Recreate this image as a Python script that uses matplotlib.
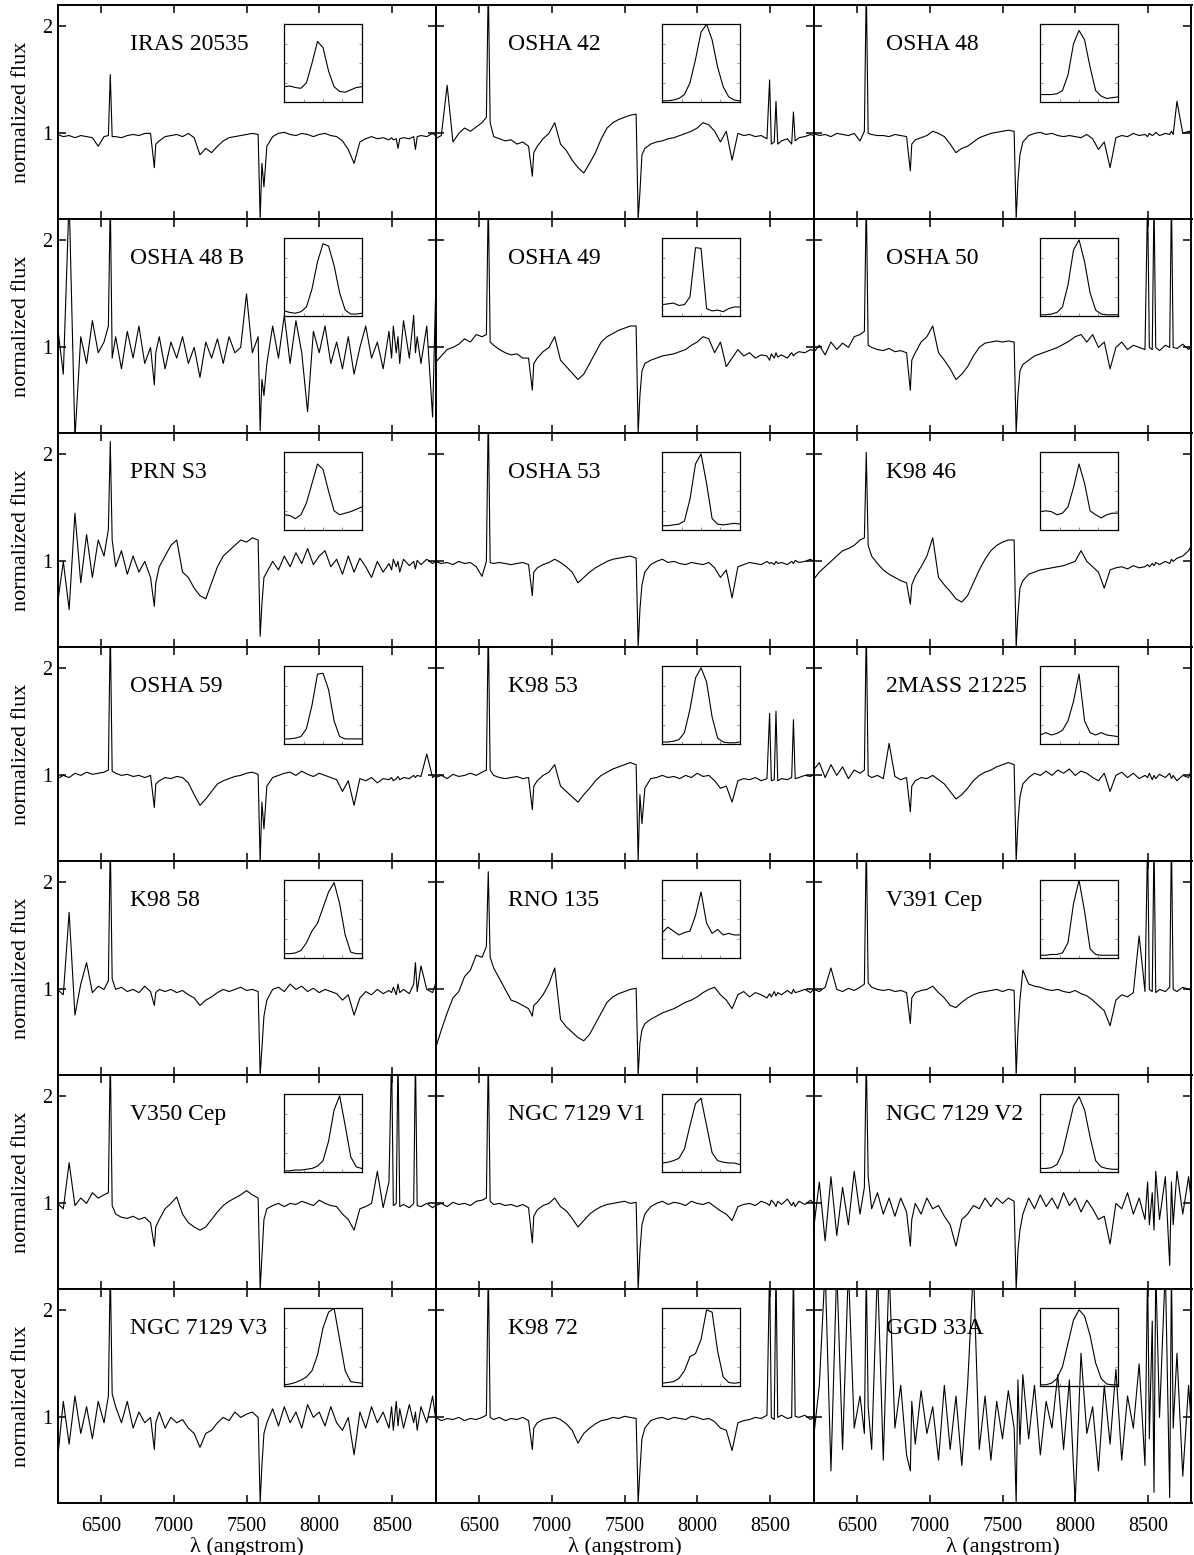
import matplotlib

matplotlib.use("Agg")
import matplotlib.pyplot as plt

plt.rcParams["font.family"] = ["Liberation Serif", "DejaVu Serif"]

# shared wavelength grid (angstrom); extra points around H-alpha, the telluric
# B and A bands and the Ca II triplet so the narrow features stay narrow
WAVE = [
    6200, 6240, 6280, 6320, 6360, 6400, 6440, 6480, 6520,
    6550, 6563, 6576,
    6600, 6640, 6680, 6720, 6760, 6800, 6840,
    6866, 6876,
    6900, 6940, 6980, 7020, 7060, 7100, 7140, 7180, 7220, 7260, 7300, 7340, 7380, 7420, 7460, 7500, 7540, 7580,
    7594, 7606, 7620,
    7640, 7680, 7720, 7760, 7800, 7840, 7880, 7920, 7960, 8000, 8040, 8080, 8120, 8160, 8200, 8240, 8280, 8320,
    8360, 8400, 8440, 8480,
    8498, 8510, 8530, 8542, 8554,
    8580, 8620, 8650, 8662, 8674,
    8700, 8740, 8780, 8800,
]

# H-alpha profile velocity grid for the insets (km/s)
HA_VEL = [-700, -600, -500, -400, -300, -200, -100, 0, 100, 200, 300, 400, 500, 600, 700]

iras_20535 = [
    0.99, 0.97, 0.98, 0.96, 0.98, 0.97, 0.96, 0.88, 0.97,
    0.98, 1.55, 0.97,
    0.97, 0.96, 0.98, 0.99, 0.98, 1.0, 1.0,
    0.68, 0.9,
    0.93, 0.97, 0.98, 0.99, 0.97, 1.0, 0.96, 0.8, 0.86, 0.82, 0.88, 0.93, 0.96, 0.97, 0.98, 0.99, 1.0, 0.99,
    0.2, 0.72, 0.5,
    0.88, 0.97, 1.0, 1.01, 0.99, 0.98, 1.0, 0.99, 0.97, 0.99, 1.0, 0.98, 0.97, 0.93, 0.85, 0.72, 0.92, 0.95,
    0.97, 0.95, 0.96, 0.94,
    0.96, 0.94, 0.95, 0.86, 0.95,
    0.96, 0.95, 0.97, 0.85, 0.97,
    0.98, 0.97, 1.0, 0.98,
]
osha_42 = [
    0.95, 0.98, 1.45, 0.92, 1.0, 1.05, 1.02, 1.06, 1.1,
    1.15, 2.4, 1.1,
    0.97, 0.95, 0.93, 0.94, 0.9, 0.92, 0.88,
    0.6, 0.82,
    0.88, 0.95, 1.0, 1.1, 0.9, 0.84, 0.75, 0.68, 0.63, 0.72, 0.82, 0.95, 1.05, 1.1, 1.13, 1.15, 1.17, 1.18,
    0.2, 0.45, 0.8,
    0.86, 0.9, 0.92, 0.93, 0.95, 0.96, 0.98, 1.0, 1.02, 1.05, 1.1, 1.08, 1.02, 0.92, 1.02, 0.75, 1.0, 0.98,
    0.99, 0.97, 0.98, 0.95,
    1.5, 0.9, 0.92, 1.3, 0.9,
    0.93, 0.95, 0.9, 1.2, 0.93,
    0.96, 0.97, 0.99, 0.98,
]
osha_48 = [
    1.0, 0.98, 0.99, 0.97, 1.0, 0.99, 0.98, 1.0, 0.93,
    1.02, 2.4, 1.0,
    0.99, 0.98, 0.98, 0.97, 0.99, 0.98, 0.97,
    0.65, 0.9,
    0.94, 0.96, 0.98, 1.02, 1.0, 0.97, 0.9, 0.82, 0.86, 0.88, 0.92, 0.96, 0.98, 1.0, 1.01, 1.02, 1.03, 1.02,
    0.2, 0.55, 0.8,
    0.92, 0.98, 1.0, 1.01, 0.99, 1.0, 0.98, 0.97, 0.98, 0.97, 0.96, 0.99, 0.95, 0.85, 0.92, 0.68, 0.96, 0.98,
    0.97, 1.0, 0.98, 0.99,
    0.97, 1.0, 0.98, 0.99, 1.01,
    0.98, 1.0, 0.99, 1.02, 0.99,
    1.3, 1.0, 1.02, 1.01,
]
osha_48b = [
    1.2, 0.75, 2.4, 0.15, 1.1, 0.85, 1.25, 0.95, 1.05,
    1.2, 2.4, 0.9,
    1.1, 0.8, 1.15, 0.9, 1.2, 0.85, 1.0,
    0.65, 0.95,
    1.1, 0.8, 1.05, 0.9, 1.1, 0.85, 1.0, 0.72, 1.05, 0.9, 1.08, 0.85, 1.1, 0.95, 1.0, 1.5, 0.95, 1.1,
    0.22, 0.7, 0.55,
    0.85, 1.2, 0.9, 1.3, 0.85, 1.25, 0.95, 0.4, 1.15, 0.95, 1.2, 0.85, 1.05, 0.8, 1.1, 0.75, 1.0, 1.2,
    0.9, 1.05, 0.8, 1.15,
    0.9, 1.2, 0.95, 1.1, 0.85,
    1.25, 0.9, 1.3, 0.95, 1.1,
    0.85, 1.2, 0.35, 1.45,
]
osha_49 = [
    0.86, 0.92, 0.98, 1.0, 1.03, 1.08, 1.05, 1.12, 1.1,
    1.12, 2.4, 1.05,
    1.02, 0.98, 0.95, 0.93, 0.94, 0.9, 0.9,
    0.6, 0.85,
    0.9, 0.96, 1.0, 1.1, 0.88, 0.82, 0.76, 0.7, 0.75, 0.85, 0.95, 1.05, 1.1, 1.13, 1.16, 1.18, 1.2, 1.2,
    0.2, 0.55, 0.78,
    0.85, 0.88, 0.9, 0.92, 0.93, 0.94, 0.96, 0.98, 1.02, 1.05, 1.1, 1.08, 0.95, 1.05, 0.82, 0.9, 0.98, 0.92,
    0.95, 0.9, 0.93, 0.92,
    0.88, 0.94, 0.9, 0.95, 0.91,
    0.93, 0.9, 0.95, 0.92, 0.94,
    0.96, 0.95, 0.98, 0.97,
]
osha_50 = [
    0.95, 1.02, 0.93, 1.05, 0.98, 1.04, 1.0, 1.1, 1.12,
    1.15, 2.4, 1.02,
    1.0, 0.98, 0.97, 0.99, 0.96, 0.97, 0.95,
    0.6, 0.88,
    0.95, 1.05, 1.1, 1.2, 0.95, 0.88, 0.8, 0.7, 0.75, 0.82, 0.92, 1.0, 1.04, 1.05, 1.06, 1.05, 1.06, 1.05,
    0.2, 0.55, 0.78,
    0.84, 0.88, 0.92, 0.94, 0.96, 0.98, 1.0, 1.03, 1.06, 1.1, 1.12, 1.05, 1.12, 1.0, 1.05, 0.8, 1.0, 1.05,
    0.98, 1.02, 1.0, 0.98,
    2.4, 1.0, 0.98, 2.4, 1.0,
    0.97, 1.02, 1.0, 2.4, 1.0,
    0.99, 1.03, 0.98, 1.02,
]
prn_s3 = [
    0.6, 1.0, 0.55, 1.45, 0.8, 1.25, 0.85, 1.2, 1.05,
    1.3, 2.12, 1.2,
    0.95, 1.1, 0.88, 1.05, 0.9, 1.0, 0.85,
    0.58, 0.8,
    0.95, 1.05, 1.15, 1.2, 0.9, 0.85, 0.75, 0.68, 0.65, 0.8, 0.95, 1.05, 1.1, 1.15, 1.2, 1.18, 1.22, 1.2,
    0.3, 0.6, 0.85,
    0.9, 1.0, 0.92, 1.05, 0.95, 1.08, 0.98, 1.12, 0.97, 1.05, 1.1, 0.95, 1.02, 0.88, 1.05, 0.9, 1.03, 0.95,
    0.85, 1.0, 0.9, 0.98,
    0.92, 1.02, 0.95, 1.0, 0.9,
    1.02, 0.96, 1.0, 0.93, 1.01,
    0.97, 1.02, 0.98, 1.0,
]
osha_53 = [
    1.0, 0.98, 0.99, 0.97, 1.0, 0.98, 0.99, 0.95, 0.86,
    1.0, 2.4, 0.99,
    0.98, 0.99, 0.98, 0.97, 0.98, 0.99, 0.97,
    0.68, 0.9,
    0.94, 0.97, 0.99, 1.02, 0.99, 0.95, 0.9, 0.8, 0.85, 0.9, 0.94, 0.97, 1.0, 1.02, 1.03, 1.04, 1.05, 1.03,
    0.2, 0.55, 0.78,
    0.9, 0.97, 1.0, 1.02, 0.99, 1.0, 0.98, 0.97, 0.99, 0.98, 0.97, 0.99, 0.94, 0.85, 0.92, 0.66, 0.95, 0.97,
    0.99, 0.98, 0.97, 1.0,
    0.98, 0.99, 0.97, 1.0, 0.98,
    0.99, 0.97, 1.0, 0.98, 1.01,
    0.99, 1.0, 1.02, 1.0,
]
k98_46 = [
    0.83, 0.9, 0.95, 1.0, 1.05, 1.1, 1.12, 1.15, 1.2,
    1.22, 2.02, 1.15,
    1.05, 0.98, 0.92, 0.88, 0.85, 0.82, 0.8,
    0.6, 0.78,
    0.86, 0.95, 1.05, 1.22, 0.85, 0.78, 0.72, 0.65, 0.62, 0.68, 0.8, 0.92, 1.02, 1.1, 1.15, 1.18, 1.2, 1.2,
    0.2, 0.5, 0.75,
    0.82, 0.88, 0.9, 0.92, 0.93, 0.94, 0.95, 0.96, 0.98, 1.0, 1.1, 1.0, 0.95, 0.9, 0.75, 0.92, 0.94, 0.95,
    0.93, 0.96, 0.94, 0.95,
    0.97, 0.95, 0.98, 0.96, 0.99,
    0.97, 1.0, 0.98, 1.02, 1.0,
    1.03, 1.05, 1.1, 1.15,
]
osha_59 = [
    0.97, 1.0, 0.98, 1.02, 1.0, 1.03, 1.01, 1.02, 1.03,
    1.05, 2.4, 1.04,
    1.02, 1.0, 1.01, 0.99, 1.0, 0.98, 1.0,
    0.7, 0.92,
    0.95, 0.98, 0.97, 0.99, 0.98, 0.93, 0.82, 0.72, 0.78, 0.85, 0.92, 0.95, 0.97, 0.99, 1.0, 1.02, 1.03, 1.01,
    0.18, 0.75, 0.5,
    0.9, 0.98, 1.0, 1.02, 1.03, 1.0, 1.04, 1.01, 0.99, 1.02, 1.0, 0.98, 0.96, 0.85, 0.95, 0.72, 0.97, 0.95,
    0.98, 0.93, 0.97, 0.96,
    0.98, 0.95, 0.97, 0.99, 0.96,
    0.98, 0.97, 1.0, 0.98, 1.0,
    0.99, 1.2, 0.98, 1.0,
]
k98_53 = [
    0.98, 1.0, 0.97, 1.01, 0.99, 1.0, 1.02, 1.0, 1.03,
    1.05, 2.4, 1.05,
    1.0, 0.98, 0.97, 0.98, 0.99, 0.97, 0.98,
    0.68, 0.9,
    0.95, 1.0, 1.03, 1.1, 0.9, 0.85, 0.8, 0.75, 0.82, 0.88, 0.95, 1.0, 1.03, 1.06, 1.08, 1.1, 1.12, 1.1,
    0.2, 0.82, 0.55,
    0.88, 0.97, 0.98, 1.0, 0.98, 0.99, 0.97, 1.0, 0.98, 1.02, 0.99, 1.0, 0.95, 0.88, 0.9, 0.75, 0.95, 0.97,
    0.96, 0.98, 0.95, 0.97,
    1.58, 0.95, 0.96, 1.6, 0.95,
    0.97, 0.96, 0.98, 1.52, 0.97,
    0.98, 1.0, 0.99, 1.01,
]
mass_21225 = [
    1.05, 1.12, 0.98, 1.1, 1.0, 1.08, 0.97, 1.05, 1.02,
    1.05, 2.4, 1.0,
    0.98, 1.0, 0.97, 1.3, 0.99, 0.96, 0.98,
    0.66, 0.9,
    0.95, 0.98, 0.97, 1.0, 0.96, 0.92, 0.85, 0.78, 0.82, 0.88, 0.95, 1.0, 1.03, 1.05, 1.08, 1.1, 1.12, 1.1,
    0.2, 0.55, 0.8,
    0.92, 0.98, 1.02, 1.0, 1.04, 1.0, 1.05, 1.02, 1.06, 1.0, 1.04, 1.02, 0.98, 0.95, 1.02, 0.85, 1.0, 1.03,
    0.98, 1.02, 0.97, 1.0,
    0.98, 1.02, 0.96, 1.0, 0.97,
    1.01, 0.98, 1.02, 0.97, 1.0,
    0.95, 1.0, 0.98, 1.05,
]
k98_58 = [
    1.0, 0.95, 1.72, 0.76, 1.05, 1.25, 0.97, 1.03, 1.0,
    1.08, 2.4, 1.1,
    1.0, 1.02, 0.98, 1.0, 0.97, 1.03, 0.98,
    0.85, 0.97,
    1.0, 0.98, 1.0, 0.97, 0.99, 0.95, 0.92, 0.85, 0.9, 0.93, 0.97, 1.0, 0.98, 1.0, 1.02, 0.99, 1.0, 0.98,
    0.2, 0.45, 0.75,
    0.9, 1.0, 1.02, 0.98, 1.05, 1.0, 1.03, 0.98, 1.01, 0.97, 1.0, 0.98, 0.96, 0.9, 0.95, 0.76, 0.92, 0.98,
    0.95, 1.0, 0.96, 0.99,
    0.97, 1.02, 0.95, 1.05, 0.97,
    1.0, 0.96, 1.05, 1.25, 0.98,
    1.22, 1.0, 0.97, 1.05,
]
rno_135 = [
    0.45, 0.62, 0.78, 0.92, 0.98, 1.12, 1.18, 1.32, 1.3,
    1.4, 2.1, 1.3,
    1.2, 1.1, 1.0, 0.9, 0.88, 0.85, 0.82,
    0.75, 0.85,
    0.88, 0.95, 1.05, 1.2, 0.72, 0.65, 0.6, 0.55, 0.52, 0.58, 0.68, 0.78, 0.88, 0.93, 0.96, 0.98, 1.0, 1.01,
    0.2, 0.5, 0.62,
    0.68, 0.72, 0.75, 0.78, 0.8, 0.82, 0.85, 0.88, 0.9, 0.93, 0.97, 1.0, 1.02, 0.95, 0.9, 0.82, 0.95, 0.98,
    0.93, 0.97, 0.95, 0.92,
    0.96, 0.93, 0.98, 0.94, 0.97,
    0.95, 0.99, 0.96, 1.0, 0.97,
    0.98, 1.0, 0.97, 1.0,
]
v391_cep = [
    1.0, 0.98, 1.02, 1.2, 1.0, 0.98, 1.01, 0.99, 1.02,
    1.05, 2.4, 1.06,
    1.02, 1.0, 0.99, 1.0, 0.98, 0.99, 0.97,
    0.68, 0.92,
    0.97, 0.99, 1.0, 1.03, 0.97, 0.92, 0.85, 0.83, 0.88, 0.92, 0.95, 0.97, 0.98, 0.99, 1.0, 0.98, 1.0, 0.99,
    0.2, 0.6, 0.9,
    1.18, 1.05, 1.03, 1.02, 1.0, 0.99, 1.0, 0.98, 0.97, 0.99, 0.96, 0.94, 0.9, 0.85, 0.8, 0.66, 0.9, 0.95,
    0.93, 0.97, 1.5, 0.98,
    2.4, 1.0, 0.98, 2.4, 0.97,
    1.0, 0.98, 1.02, 2.4, 1.0,
    0.98, 1.02, 1.0, 0.99,
]
v350_cep = [
    1.0, 0.95, 1.38, 0.98, 1.05, 1.0, 1.1, 1.05, 1.08,
    1.1, 2.4, 0.98,
    0.9, 0.87, 0.86, 0.88, 0.85, 0.87, 0.82,
    0.6, 0.78,
    0.85, 0.95, 1.0, 1.06, 0.9, 0.82, 0.78, 0.75, 0.78, 0.85, 0.92, 0.98, 1.02, 1.05, 1.08, 1.12, 1.08, 1.05,
    0.2, 0.5, 0.85,
    0.95, 0.98, 1.0, 0.97, 1.0, 0.99, 1.02, 1.0, 0.98, 1.03, 1.0, 0.98, 0.97, 0.9, 0.85, 0.75, 0.95, 0.97,
    1.0, 1.3, 0.96, 1.2,
    2.4, 0.98, 1.0, 2.4, 0.97,
    0.99, 0.96, 1.0, 2.4, 0.98,
    0.97, 1.0, 0.96, 0.98,
]
ngc7129_v1 = [
    0.98, 1.0, 0.97, 1.01, 0.99, 1.0, 0.98, 1.02, 1.03,
    1.05, 2.4, 1.02,
    0.99, 1.0, 0.98, 0.99, 0.97, 0.99, 0.96,
    0.63, 0.88,
    0.94, 0.98, 1.0, 1.05, 0.97, 0.93, 0.86, 0.78, 0.84, 0.9, 0.94, 0.97, 0.99, 1.0, 1.01, 1.02, 1.0, 1.01,
    0.2, 0.55, 0.8,
    0.9, 0.97, 1.0, 1.02, 0.99, 1.01, 1.0, 0.98, 1.02, 1.0, 0.99, 1.01, 0.97, 0.93, 0.9, 0.84, 0.97, 0.99,
    1.0, 0.98, 1.02, 1.0,
    0.98, 1.03, 1.0, 0.97, 1.02,
    0.99, 1.04, 0.98, 1.01, 0.97,
    1.02, 0.99, 1.03, 1.0,
]
ngc7129_v2 = [
    0.75, 1.2, 0.65, 1.25, 0.7, 1.15, 0.8, 1.3, 0.9,
    1.15, 2.4, 1.25,
    0.95, 1.1, 0.9, 1.05, 0.88, 1.05, 0.92,
    0.6, 0.85,
    1.0, 0.9, 1.05, 0.95, 0.98, 0.88, 0.8, 0.6, 0.85, 0.9, 0.98, 0.95, 1.05, 0.97, 1.05, 1.0, 1.05, 1.02,
    0.2, 0.55, 0.75,
    0.9, 1.05, 0.95, 1.08, 0.97, 1.05, 0.95, 1.1, 0.98, 1.05, 0.92, 1.03, 0.95, 0.85, 0.88, 0.62, 1.0, 0.95,
    1.1, 0.9, 1.05, 0.85,
    1.2, 0.8, 1.1, 0.75, 1.3,
    0.85, 1.25, 0.42, 1.2, 0.8,
    1.3, 0.9, 1.25, 1.0,
]
ngc7129_v3 = [
    0.6, 1.15, 0.75, 1.2, 0.85, 1.1, 0.8, 1.15, 0.95,
    1.2, 2.4, 1.22,
    1.1, 0.95, 1.15, 0.9, 1.05, 0.95, 1.0,
    0.7, 0.95,
    1.05, 0.9, 1.0, 0.95, 0.98, 0.9, 0.85, 0.72, 0.85, 0.88, 0.95, 1.0, 0.97, 1.05, 1.0, 1.03, 1.05, 1.0,
    0.2, 0.55, 0.85,
    0.95, 1.08, 0.92, 1.1, 0.95, 1.05, 0.9, 1.12, 1.0, 1.05, 0.92, 1.1, 0.95, 0.88, 1.0, 0.65, 1.05, 0.9,
    1.1, 0.95, 1.05, 0.9,
    1.1, 0.88, 1.15, 0.92, 1.08,
    0.9, 1.12, 0.95, 1.05, 0.88,
    1.1, 0.95, 1.2, 1.0,
]
k98_72 = [
    1.0, 0.97, 0.99, 0.98, 1.0, 0.97, 0.99, 0.98, 1.0,
    1.02, 2.4, 1.0,
    0.98, 1.0, 0.97, 0.99, 0.98, 1.0, 0.97,
    0.7, 0.9,
    0.95, 0.98, 0.99, 1.0, 0.98, 0.94, 0.88, 0.76, 0.85, 0.9, 0.94, 0.97, 0.98, 1.0, 0.99, 1.01, 1.0, 0.99,
    0.2, 0.5, 0.8,
    0.9, 0.97, 0.99, 1.0, 0.98, 1.0, 0.99, 0.98, 1.01, 1.0, 0.98, 0.99, 0.96, 0.9, 0.88, 0.69, 0.95, 0.97,
    0.98, 1.0, 0.99, 1.02,
    2.4, 1.0, 0.98, 2.4, 1.0,
    1.02, 0.99, 1.0, 2.4, 1.01,
    1.0, 1.02, 0.98, 1.0,
]
ggd_33a = [
    0.8, 1.3, 2.4, 0.5, 2.4, 0.7, 2.4, 0.9, 1.2,
    0.85, 2.4, 1.1,
    0.7, 2.4, 0.6, 2.4, 0.9, 1.3, 0.65,
    0.5, 1.15,
    0.75, 1.25, 0.85, 1.1, 0.6, 1.3, 0.7, 1.2, 0.55, 1.3, 2.4, 0.7, 1.2, 0.6, 1.15, 0.8, 1.25, 0.9,
    0.2, 1.35, 0.75,
    1.4, 0.8, 1.3, 0.65, 1.15, 0.9, 1.4, 0.7, 1.35, 0.2, 1.6, 0.85, 1.1, 0.5, 1.3, 0.75, 1.45, 0.6,
    1.2, 0.9, 1.5, 0.55,
    2.4, 0.8, 1.9, 0.3, 2.4,
    1.0, 2.4, 0.25, 2.4, 0.9,
    1.6, 0.45, 1.3, 0.9,
]

# H-alpha profiles shown in the insets (scaled to the inset box, 0..1)
ha_iras_20535 = [0.2, 0.21, 0.19, 0.18, 0.25, 0.5, 0.78, 0.7, 0.4, 0.2, 0.14, 0.13, 0.16, 0.19, 0.2]
ha_osha_42 = [0.02, 0.02, 0.03, 0.05, 0.1, 0.25, 0.55, 0.9, 1.0, 0.8, 0.45, 0.2, 0.07, 0.03, 0.02]
ha_osha_48 = [0.1, 0.1, 0.1, 0.11, 0.15, 0.35, 0.75, 0.92, 0.8, 0.45, 0.15, 0.08, 0.05, 0.06, 0.07]
ha_osha_48b = [0.07, 0.05, 0.04, 0.06, 0.12, 0.35, 0.7, 0.93, 0.9, 0.65, 0.3, 0.08, 0.03, 0.03, 0.04]
ha_osha_49 = [0.15, 0.16, 0.17, 0.14, 0.15, 0.25, 0.88, 0.87, 0.1, 0.07, 0.08, 0.06, 0.1, 0.12, 0.12]
ha_osha_50 = [0.02, 0.02, 0.03, 0.05, 0.12, 0.4, 0.85, 0.98, 0.7, 0.3, 0.08, 0.03, 0.02, 0.02, 0.02]
ha_prn_s3 = [0.2, 0.19, 0.15, 0.2, 0.35, 0.6, 0.85, 0.78, 0.5, 0.25, 0.2, 0.22, 0.24, 0.27, 0.3]
ha_osha_53 = [0.06, 0.06, 0.07, 0.08, 0.12, 0.4, 0.85, 0.98, 0.6, 0.15, 0.08, 0.07, 0.08, 0.09, 0.08]
ha_k98_46 = [0.24, 0.25, 0.24, 0.2, 0.22, 0.3, 0.55, 0.85, 0.6, 0.25, 0.2, 0.16, 0.2, 0.22, 0.22]
ha_osha_59 = [0.07, 0.07, 0.08, 0.1, 0.2, 0.5, 0.9, 0.91, 0.7, 0.3, 0.1, 0.07, 0.07, 0.07, 0.07]
ha_k98_53 = [0.03, 0.03, 0.04, 0.06, 0.15, 0.45, 0.85, 0.98, 0.8, 0.35, 0.08, 0.03, 0.02, 0.02, 0.03]
ha_mass_21225 = [0.12, 0.15, 0.12, 0.14, 0.18, 0.3, 0.55, 0.9, 0.3, 0.15, 0.12, 0.15, 0.12, 0.11, 0.1]
ha_k98_58 = [0.06, 0.06, 0.07, 0.1, 0.2, 0.35, 0.45, 0.65, 0.85, 0.97, 0.7, 0.3, 0.08, 0.06, 0.06]
ha_rno_135 = [0.33, 0.4, 0.35, 0.3, 0.33, 0.35, 0.55, 0.85, 0.45, 0.32, 0.37, 0.3, 0.32, 0.3, 0.3]
ha_v391_cep = [0.04, 0.04, 0.05, 0.05, 0.07, 0.2, 0.7, 1.0, 0.6, 0.12, 0.05, 0.04, 0.04, 0.04, 0.04]
ha_v350_cep = [0.02, 0.02, 0.03, 0.03, 0.04, 0.05, 0.08, 0.15, 0.4, 0.8, 0.98, 0.6, 0.2, 0.07, 0.05]
ha_ngc7129_v1 = [0.12, 0.13, 0.15, 0.18, 0.3, 0.6, 0.88, 0.95, 0.6, 0.25, 0.15, 0.13, 0.12, 0.12, 0.1]
ha_ngc7129_v2 = [0.05, 0.05, 0.06, 0.1, 0.25, 0.55, 0.85, 0.97, 0.8, 0.45, 0.15, 0.07, 0.05, 0.04, 0.04]
ha_ngc7129_v3 = [0.02, 0.03, 0.05, 0.08, 0.12, 0.2, 0.4, 0.75, 0.95, 1.0, 0.6, 0.2, 0.06, 0.05, 0.04]
ha_k98_72 = [0.04, 0.05, 0.06, 0.1, 0.2, 0.38, 0.42, 0.6, 0.98, 0.95, 0.45, 0.12, 0.05, 0.04, 0.05]
ha_ggd_33a = [0.02, 0.02, 0.04, 0.1, 0.25, 0.55, 0.85, 0.98, 0.9, 0.65, 0.3, 0.1, 0.03, 0.02, 0.02]

PANELS = [
    ("IRAS 20535", iras_20535, ha_iras_20535),
    ("OSHA 42", osha_42, ha_osha_42),
    ("OSHA 48", osha_48, ha_osha_48),
    ("OSHA 48 B", osha_48b, ha_osha_48b),
    ("OSHA 49", osha_49, ha_osha_49),
    ("OSHA 50", osha_50, ha_osha_50),
    ("PRN S3", prn_s3, ha_prn_s3),
    ("OSHA 53", osha_53, ha_osha_53),
    ("K98 46", k98_46, ha_k98_46),
    ("OSHA 59", osha_59, ha_osha_59),
    ("K98 53", k98_53, ha_k98_53),
    ("2MASS 21225", mass_21225, ha_mass_21225),
    ("K98 58", k98_58, ha_k98_58),
    ("RNO 135", rno_135, ha_rno_135),
    ("V391 Cep", v391_cep, ha_v391_cep),
    ("V350 Cep", v350_cep, ha_v350_cep),
    ("NGC 7129 V1", ngc7129_v1, ha_ngc7129_v1),
    ("NGC 7129 V2", ngc7129_v2, ha_ngc7129_v2),
    ("NGC 7129 V3", ngc7129_v3, ha_ngc7129_v3),
    ("K98 72", k98_72, ha_k98_72),
    ("GGD 33A", ggd_33a, ha_ggd_33a),
]

W, H = 1194, 1555
LEFT, COL_W = 57.5, 378.0
TOP, ROW_H = 5.0, 214.0
N_ROWS = 7

fig = plt.figure(figsize=(W / 100, H / 100), dpi=100)

for k, (name, flux, profile) in enumerate(PANELS):
    r, c = divmod(k, 3)
    ax = fig.add_axes([(LEFT + c * COL_W) / W, 1 - (TOP + (r + 1) * ROW_H) / H, COL_W / W, ROW_H / H])
    ax.plot(WAVE, flux, color="k", lw=0.8)
    ax.set_xlim(6200, 8800)
    ax.set_ylim(0.2, 2.2)
    ax.set_xticks([6500, 7000, 7500, 8000, 8500])
    ax.set_yticks([1, 2])
    ax.tick_params(direction="in", top=True, right=True, length=6, width=1.1, labelsize=14.5)
    ax.tick_params(axis="x", pad=10)
    ax.tick_params(axis="y", pad=4)
    for sp in ax.spines.values():
        sp.set_linewidth(1.4)
    if c == 0:
        ax.set_ylabel("normalized flux", fontsize=16, labelpad=8)
    else:
        ax.tick_params(labelleft=False)
    if r == N_ROWS - 1:
        ax.set_xlabel("λ (angstrom)", fontsize=16, labelpad=1)
    else:
        ax.tick_params(labelbottom=False)
    ax.text(0.193, 0.79, name, transform=ax.transAxes, fontsize=17)

    ins = ax.inset_axes([0.60, 0.545, 0.205, 0.365])
    ins.set_facecolor("none")
    ins.plot(HA_VEL, profile, color="k", lw=0.8)
    ins.set_xlim(-700, 700)
    ins.set_ylim(0, 1.0)
    ins.set_xticks([-350, 0, 350])
    ins.set_yticks([0.25, 0.5, 0.75])
    ins.tick_params(direction="in", top=False, right=True, length=2.5, width=0.5,
                    labelbottom=False, labelleft=False, color="0.4")
    for sp in ins.spines.values():
        sp.set_linewidth(0.9)

fig.savefig("out.png", dpi=100)
